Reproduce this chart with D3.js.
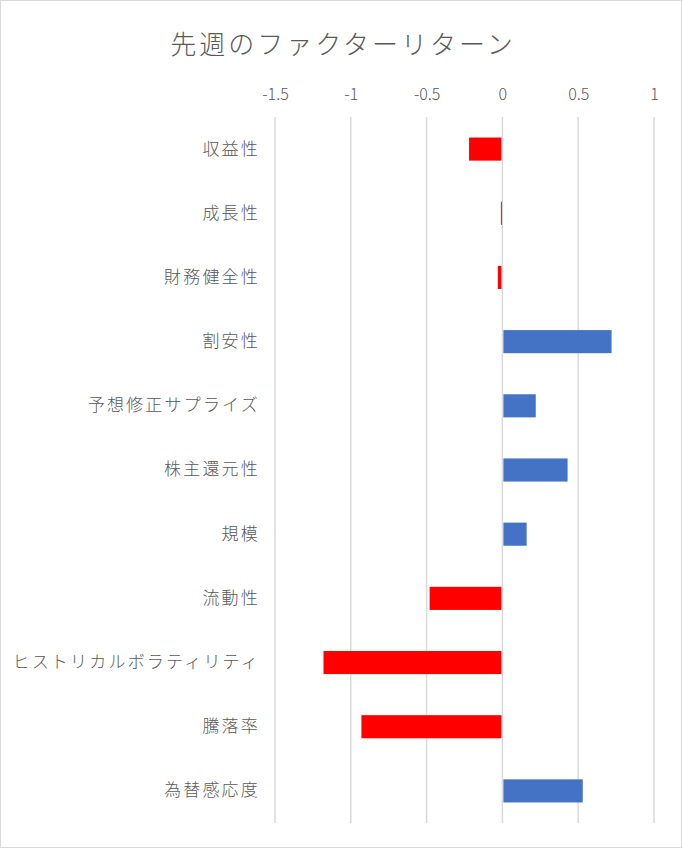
<html>
<head>
<meta charset="utf-8">
<script src="https://d3js.org/d3.v7.min.js" charset="utf-8"></script>
<style>
body { margin: 0; background: #fff; font-family: "Noto Sans CJK JP", "Noto Sans", sans-serif; }
</style>
</head>
<body>
<script>
var width = 682;
var height = 848;

// data
var factors = ["収益性", "成長性", "財務健全性", "割安性", "予想修正サプライズ", "株主還元性",
               "規模", "流動性", "ヒストリカルボラティリティ", "騰落率", "為替感応度"];
var returns = [-0.22, -0.01, -0.03, 0.72, 0.22, 0.43, 0.16, -0.48, -1.18, -0.93, 0.53];
var tickValues = [-1.5, -1, -0.5, 0, 0.5, 1];

var svg = d3.select("body").append("svg")
    .attr("width", width)
    .attr("height", height);

// chart frame
svg.append("rect")
    .attr("x", 0.5).attr("y", 0.5)
    .attr("width", width - 1).attr("height", height - 1)
    .attr("fill", "#fff")
    .attr("stroke", "#d9d9d9");

svg.append("text")
    .attr("x", 343).attr("y", 54)
    .attr("text-anchor", "middle")
    .attr("font-size", 26)
    .attr("font-weight", 300)
    .attr("letter-spacing", 3)
    .attr("fill", "#595959")
    .text("先週のファクターリターン");

var x = d3.scaleLinear().domain([-1.5, 1]).range([275, 654]);
var y = d3.scaleBand().domain(factors).range([117, 823]).paddingInner(0.64).paddingOuter(0.32);

// gridlines (behind bars)
svg.append("g").selectAll("line")
    .data(tickValues)
    .enter().append("line")
    .attr("x1", function(d) { return x(d); })
    .attr("x2", function(d) { return x(d); })
    .attr("y1", 117).attr("y2", 823)
    .attr("stroke", "#d9d9d9")
    .attr("stroke-width", 1.5);

// bars, leaving the zero line visible
svg.append("g").selectAll("rect")
    .data(returns)
    .enter().append("rect")
    .attr("x", function(d) { return d < 0 ? x(d) : x(0) + 1; })
    .attr("y", function(d, i) { return y(factors[i]); })
    .attr("width", function(d) { return Math.max(1, Math.abs(x(d) - x(0)) - 1); })
    .attr("height", y.bandwidth())
    .attr("fill", function(d) { return d < 0 ? "#ff0000" : "#4472c4"; });

// top axis labels
var xAxis = d3.axisTop(x).tickValues(tickValues).tickSize(0).tickPadding(0)
    .tickFormat(function(d) { return String(d); });
var gx = svg.append("g").attr("transform", "translate(0,100)").call(xAxis);
gx.select(".domain").remove();
gx.selectAll("text")
    .attr("font-family", "'Noto Sans CJK JP', sans-serif")
    .attr("font-size", 16)
    .attr("font-weight", 300)
    .attr("fill", "#595959");

// category labels
var yAxis = d3.axisLeft(y).tickSize(0).tickPadding(0);
var gy = svg.append("g").attr("transform", "translate(260,0)").call(yAxis);
gy.select(".domain").remove();
gy.selectAll("text")
    .attr("font-family", "'Noto Sans CJK JP', sans-serif")
    .attr("font-size", 17)
    .attr("font-weight", 300)
    .attr("letter-spacing", 2.2)
    .attr("fill", "#595959");
</script>
</body>
</html>
